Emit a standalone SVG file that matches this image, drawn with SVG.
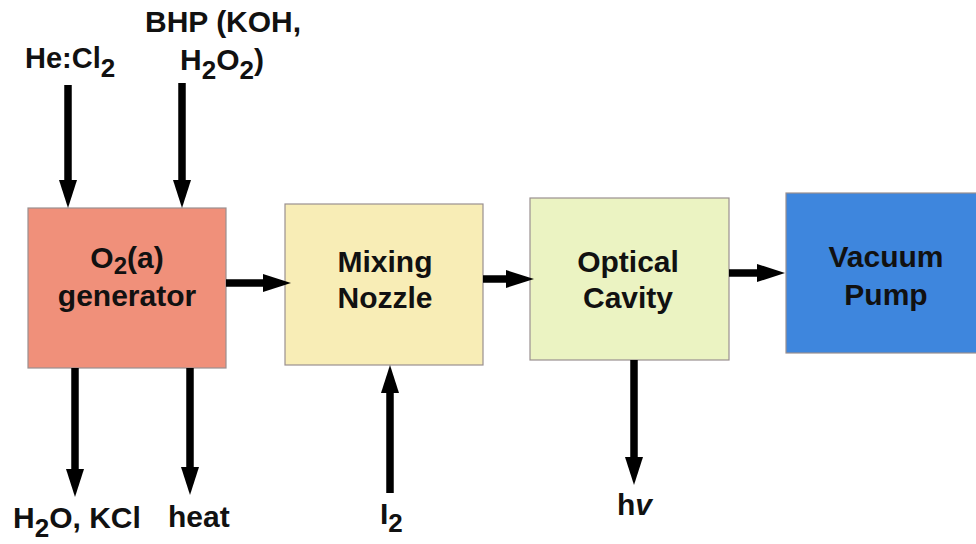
<svg xmlns="http://www.w3.org/2000/svg" width="976" height="544" viewBox="0 0 976 544">
<defs>
<style>
.box{stroke:#9a9090;stroke-width:1.2}
.t{font-family:"Liberation Sans",Arial,sans-serif;font-weight:bold;font-size:30px;fill:#111;text-anchor:middle}
.l{font-family:"Liberation Sans",Arial,sans-serif;font-weight:bold;font-size:30px;fill:#111}
.sub{font-size:26px}
.c{stroke:#000;stroke-width:7.5;fill:none}
</style>
<marker id="ah" markerUnits="userSpaceOnUse" markerWidth="28" markerHeight="18" refX="0" refY="9" orient="auto" viewBox="0 0 28 18">
<path d="M0,0 L28,9 L0,18 Z" fill="#000"/>
</marker>
</defs>
<rect width="976" height="544" fill="#fff"/>

<g id="generator">
<rect class="box" x="28" y="208" width="198" height="160" fill="#F0907A"/>
<text class="t" x="127" y="268">O<tspan style="font-size:24px" dy="6">2</tspan><tspan dy="-6">(a)</tspan></text>
<text class="t" x="127" y="306">generator</text>
</g>

<g id="nozzle">
<rect class="box" x="285" y="204" width="198" height="161" fill="#F8EDB6"/>
<text class="t" x="385" y="272">Mixing</text>
<text class="t" x="385" y="308">Nozzle</text>
</g>

<g id="cavity">
<rect class="box" x="530" y="198" width="199" height="162" fill="#EBF3C2"/>
<text class="t" x="628" y="272">Optical</text>
<text class="t" x="628" y="308">Cavity</text>
</g>

<g id="pump">
<rect class="box" x="786" y="193" width="200" height="160" fill="#3E86DD"/>
<text class="t" x="886" y="267">Vacuum</text>
<text class="t" x="886" y="305">Pump</text>
</g>

<g id="labels">
<text class="l" x="25" y="68" style="font-size:29px">He:Cl<tspan class="sub" dy="9">2</tspan></text>
<text class="l" x="145" y="32">BHP (KOH,</text>
<text class="l" x="180" y="70">H<tspan class="sub" dy="9">2</tspan><tspan dy="-9">O</tspan><tspan class="sub" dy="9">2</tspan><tspan dy="-9">)</tspan></text>
<text class="l" x="13" y="528">H<tspan class="sub" dy="9">2</tspan><tspan dy="-9">O, KCl</tspan></text>
<text class="l" x="168" y="527">heat</text>
<text class="l" x="380" y="524">I<tspan class="sub" dy="8">2</tspan></text>
<text class="l" x="617" y="515">h<tspan font-style="italic">v</tspan></text>
</g>

<g id="connectors">
<line class="c" x1="68" y1="85" x2="68" y2="180" marker-end="url(#ah)"/>
<line class="c" x1="182" y1="83" x2="182" y2="180" marker-end="url(#ah)"/>
<line class="c" x1="226" y1="283" x2="263" y2="283" marker-end="url(#ah)"/>
<line class="c" x1="483" y1="279" x2="506" y2="279" marker-end="url(#ah)"/>
<line class="c" x1="729" y1="273" x2="757" y2="273" marker-end="url(#ah)"/>
<line class="c" x1="75" y1="368" x2="75" y2="469" marker-end="url(#ah)"/>
<line class="c" x1="190" y1="368" x2="190" y2="467" marker-end="url(#ah)"/>
<line class="c" x1="390" y1="493" x2="390" y2="393" marker-end="url(#ah)"/>
<line class="c" x1="634" y1="360" x2="634" y2="457" marker-end="url(#ah)"/>
</g>
</svg>
